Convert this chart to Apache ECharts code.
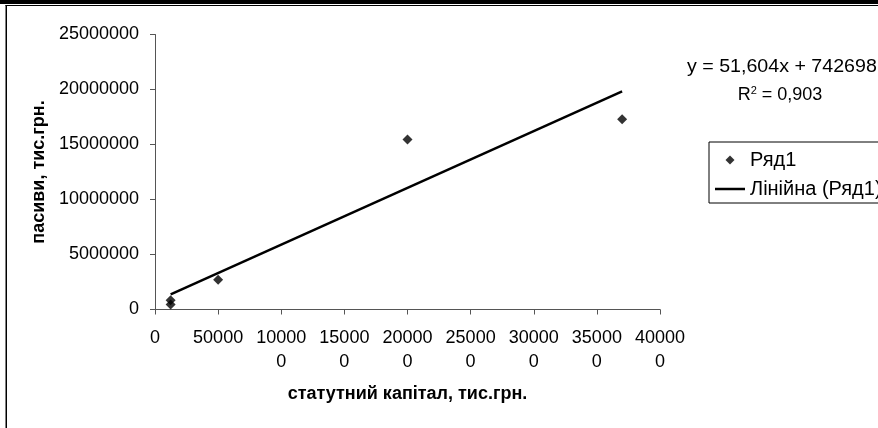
<!DOCTYPE html>
<html>
<head>
<meta charset="utf-8">
<script src="https://cdn.jsdelivr.net/npm/echarts@6/dist/echarts.min.js"></script>
<style>
html,body{margin:0;padding:0;background:#fff;}
#chart{width:878px;height:428px;}
</style>
</head>
<body>
<div id="chart"></div>
<script>
// Data
var capital = [12400, 12400, 50000, 200000, 370000];        // статутний капітал, тис.грн.
var liabilities = [850000, 450000, 2700000, 15450000, 17300000]; // пасиви, тис.грн.
var seriesName = 'Ряд1';
var trendName = 'Лінійна (Ряд1)';
var trendSlope = 51.604;      // from displayed equation
var trendIntercept = 742698;  // from displayed equation
var equationText = 'y = 51,604x + 742698';
var r2Text = '0,903';
var xTitle = 'статутний капітал, тис.грн.';
var yTitle = 'пасиви, тис.грн.';

var scatterData = capital.map(function (x, i) { return [x, liabilities[i]]; });
var xMin = Math.min.apply(null, capital), xMax = Math.max.apply(null, capital);
var trendData = [xMin, xMax].map(function (x) { return [x, trendSlope * x + trendIntercept]; });

var FONT = '"Liberation Sans", Arial, sans-serif';
var chart = echarts.init(document.getElementById('chart'), null, {renderer: 'canvas'});
chart.setOption({
  animation: false,
  backgroundColor: '#fff',
  textStyle: {fontFamily: FONT, color: '#000'},
  grid: {left: 155, right: 218, top: 34.5, bottom: 118.5},
  xAxis: {
    type: 'value', min: 0, max: 400000, interval: 50000,
    name: xTitle, nameLocation: 'middle', nameGap: 76,
    nameTextStyle: {fontFamily: FONT, fontWeight: 'bold', fontSize: 18, color: '#000'},
    axisLine: {show: true, lineStyle: {color: '#555', width: 1}},
    axisTick: {show: true, inside: false, length: 5, lineStyle: {color: '#555'}},
    splitLine: {show: false},
    axisLabel: {
      fontFamily: FONT, fontSize: 18, color: '#000', margin: 17, lineHeight: 24,
      formatter: function (v) { var s = String(v); return s.length > 5 ? s.slice(0, 5) + '\n' + s.slice(5) : s; }
    }
  },
  yAxis: {
    type: 'value', min: 0, max: 25000000, interval: 5000000,
    name: yTitle, nameLocation: 'middle', nameGap: 106, nameRotate: 90,
    nameTextStyle: {fontFamily: FONT, fontWeight: 'bold', fontSize: 18, color: '#000'},
    axisLine: {show: true, lineStyle: {color: '#555', width: 1}},
    axisTick: {show: true, inside: false, length: 5, lineStyle: {color: '#555'}},
    splitLine: {show: false},
    axisLabel: {fontFamily: FONT, fontSize: 18, color: '#000', margin: 16,
      formatter: function (v) { return String(v); }}
  },
  legend: {
    orient: 'vertical', left: 709, top: 142,
    padding: [8, 200, 4, 6], itemGap: 9, itemWidth: 30, itemHeight: 9,
    borderColor: '#000', borderWidth: 1, backgroundColor: '#fff',
    textStyle: {fontFamily: FONT, fontSize: 20, color: '#000'},
    data: [
      {name: seriesName, icon: 'path://M5,0 L10,5 L5,10 L0,5 Z'},
      {name: trendName, icon: 'path://M0,0 L30,0 L30,2.5 L0,2.5 Z'}
    ]
  },
  series: [
    {
      name: seriesName, type: 'scatter', symbol: 'diamond', symbolSize: 10,
      itemStyle: {color: '#000'}, data: scatterData, z: 3
    },
    {
      name: trendName, type: 'line', symbol: 'none', data: trendData,
      lineStyle: {color: '#000', width: 2.5}, itemStyle: {color: '#000'}, z: 2
    }
  ],
  graphic: [
    {type: 'rect', shape: {x: 0, y: 0, width: 878, height: 4}, style: {fill: '#000'}, silent: true},
    {type: 'rect', shape: {x: 5.5, y: 5, width: 872.5, height: 1}, style: {fill: '#000'}, silent: true},
    {type: 'rect', shape: {x: 5.5, y: 5, width: 1.5, height: 423}, style: {fill: '#000'}, silent: true},
    {type: 'text', x: 687, y: 67, scaleX: 1.09,
      style: {text: equationText, font: '18px ' + FONT, fill: '#000', verticalAlign: 'middle', align: 'left'}},
    {type: 'text', x: 780, y: 95,
      style: {text: '{a|R}{s|2}{a| = ' + r2Text + '}', verticalAlign: 'middle', align: 'center',
        rich: {a: {fontFamily: FONT, fontSize: 18, fill: '#000', color: '#000'},
               s: {fontFamily: FONT, fontSize: 11, color: '#000', verticalAlign: 'top', padding: [0, 0, 8, 0]}}}}
  ]
});
</script>
</body>
</html>
